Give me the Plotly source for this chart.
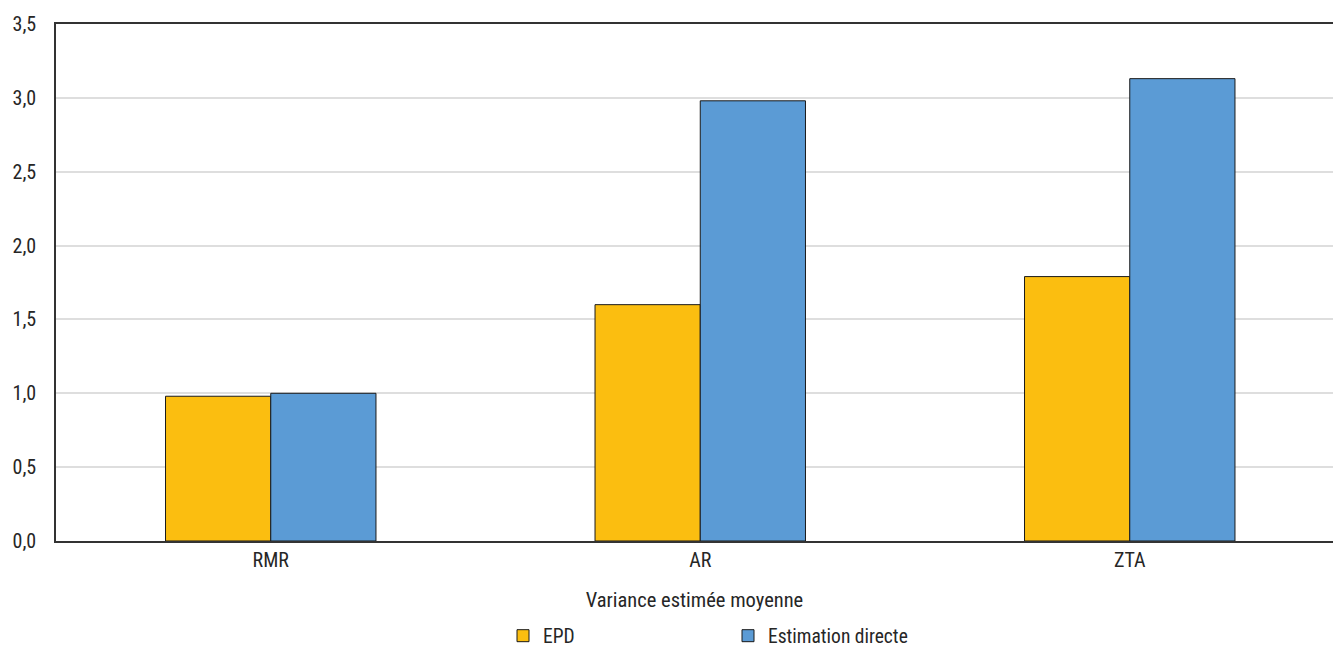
import plotly.graph_objects as go

categories = ["RMR", "AR", "ZTA"]
epd = [0.98, 1.60, 1.79]
estimation_directe = [1.00, 2.98, 3.13]
y_ticks = [0.0, 0.5, 1.0, 1.5, 2.0, 2.5, 3.0, 3.5]

FONT = "Liberation Sans Narrow, Roboto Condensed, Arial Narrow, sans-serif"
TEXT = "#262626"

fig = go.Figure()
fig.add_trace(go.Bar(
    x=categories, y=epd, name="EPD",
    marker=dict(color="#FBBE10", line=dict(color="#1a1a1a", width=1)),
))
fig.add_trace(go.Bar(
    x=categories, y=estimation_directe, name="Estimation directe",
    marker=dict(color="#5B9BD5", line=dict(color="#1a1a1a", width=1)),
))

W, H = 1333, 650
left, top, bottom = 56, 24, 109
step = 429.5  # pixels per category
fig.update_layout(
    width=W, height=H,
    margin=dict(l=left, r=0, t=top, b=bottom),
    paper_bgcolor="white", plot_bgcolor="white",
    barmode="group", bargap=0.51, bargroupgap=0,
    separators=", ",
    font=dict(family=FONT, size=20, color=TEXT),
    showlegend=True,
    legend=dict(
        orientation="h", xref="container", yref="container",
        x=503 / W, y=1 - 636 / H, xanchor="left", yanchor="middle",
        entrywidth=180, entrywidthmode="pixels",
        font=dict(family=FONT, size=19.5, color=TEXT),
        itemwidth=30, tracegroupgap=0,
    ),
    xaxis=dict(
        range=[-0.5, -0.5 + (W - left) / step],
        showline=True, linecolor="#333333", linewidth=1.5, mirror=True,
        ticks="", showgrid=False,
        tickfont=dict(size=20, color=TEXT),
        title=dict(text="Variance estimée moyenne", font=dict(size=20.5, color=TEXT), standoff=22),
    ),
    yaxis=dict(
        range=[0, 3.5], tickvals=y_ticks, tickformat=".1f",
        showline=True, linecolor="#333333", linewidth=1.5,
        showgrid=True, gridcolor="#dedede", gridwidth=1.5,
        zeroline=False, ticks="", ticklabelstandoff=14,
        tickfont=dict(size=20, color=TEXT),
    ),
)

fig.write_html("out.html")
